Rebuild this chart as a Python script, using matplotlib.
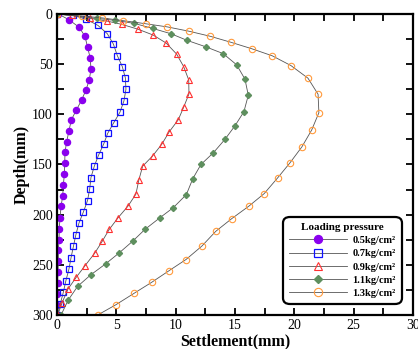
import matplotlib
matplotlib.use("Agg")
import matplotlib.pyplot as plt
from matplotlib.ticker import MultipleLocator

# Settlement profiles (depth in mm, settlement in mm) for each loading pressure
depth_05 = [0, 5.7, 13.4, 22.4, 33.4, 44, 55, 65.7, 75.7, 85.7, 95.7, 105.7, 116.4, 127.4,
            138, 149, 159.7, 170.7, 181.4, 191.7, 203, 214, 225, 235.7, 246.4, 257.4,
            268.4, 279, 289.7, 300]
settle_05 = [0.1, 1.0, 1.88, 2.36, 2.58, 2.8, 2.86, 2.72, 2.44, 2.08, 1.63, 1.2, 1.01, 0.81,
             0.67, 0.65, 0.62, 0.53, 0.48, 0.34, 0.25, 0.19, 0.17, 0.11, 0.11, 0.08,
             0.05, 0.03, 0.02, 0.0]

depth_07 = [0, 1.4, 5, 11.4, 19.7, 30, 41.4, 52.4, 63.7, 75, 86.7, 98, 108.4, 119, 129.7,
            140.7, 151.4, 163, 174.7, 186, 197.4, 208.4, 220, 231.7, 243, 254.5, 265.7,
            277.4, 288.7, 300]
settle_07 = [0, 1.32, 2.41, 3.45, 4.24, 4.75, 5.08, 5.5, 5.76, 5.81, 5.64, 5.3, 4.78, 4.27,
             3.93, 3.5, 3.15, 2.86, 2.75, 2.57, 2.22, 1.85, 1.59, 1.38, 1.18, 1.0, 0.75,
             0.53, 0.28, 0.03]

depth_09 = [0, 1.4, 4.4, 7, 10.5, 15.2, 21, 29, 40, 52.4, 65.7, 79.7, 93, 105.4, 117.4, 130,
            141.4, 151.7, 165.2, 179.5, 191.5, 203, 214.7, 226.7, 238.5, 250.7, 262.4,
            274, 287.7, 300]
settle_09 = [0, 1.3, 2.82, 4.18, 5.5, 6.83, 8.1, 9.2, 10.08, 10.67, 11.1, 11.12, 10.67,
             10.22, 9.46, 8.82, 8.06, 7.22, 6.9, 6.65, 5.98, 5.15, 4.4, 3.8, 3.17, 2.37,
             1.62, 0.93, 0.43, 0.06]

depth_11 = [0, 4.4, 6.4, 9.4, 14.4, 19.7, 26.4, 32.7, 39.5, 50.7, 65, 81, 97.4, 111.4, 125,
            138.4, 150, 164, 180, 193, 203, 214.7, 226.4, 238, 249, 260, 271.4, 285, 300]
settle_11 = [0, 3.34, 4.89, 6.51, 8.06, 9.6, 10.98, 12.53, 14.0, 15.14, 15.84, 16.12,
             15.75, 15.0, 14.15, 13.17, 12.13, 11.45, 10.9, 9.8, 8.68, 7.41, 6.38, 5.25,
             4.1, 2.84, 1.74, 0.95, 0.34]

depth_13 = [0, 2, 3.9, 6.7, 9.8, 12.9, 17.2, 22.2, 28.2, 34.6, 41.7, 51.4, 64, 80, 98.4,
            115.7, 132.4, 148.4, 163.4, 179, 191.4, 204, 216.7, 231.4, 244.7, 255.7, 267.4,
            278.4, 289.7, 300]
settle_13 = [0, 2.08, 3.78, 5.6, 7.5, 9.3, 11.12, 12.9, 14.65, 16.4, 18.14, 19.71, 21.15,
             22.0, 22.07, 21.46, 20.64, 19.63, 18.59, 17.46, 16.18, 14.72, 13.37, 12.2,
             10.87, 9.46, 7.98, 6.49, 4.97, 3.43]

labels = ["0.5kg/cm\u00b2", "0.7kg/cm\u00b2", "0.9kg/cm\u00b2", "1.1kg/cm\u00b2", "1.3kg/cm\u00b2"]

plt.rcParams["font.family"] = ["Liberation Serif", "DejaVu Serif"]

fig = plt.figure(figsize=(4.18, 3.49), dpi=100)
ax = fig.add_axes([0.1364, 0.0974, 0.988 - 0.1364, 0.96 - 0.0974])

line_kw = dict(color="#555555", lw=0.6)
series = [
    (settle_05, depth_05, dict(marker="o", ms=4.4, mfc="#8a00ee", mec="#8a00ee")),
    (settle_07, depth_07, dict(marker="s", ms=4.0, mfc="none", mec="#1010ff", mew=0.9)),
    (settle_09, depth_09, dict(marker="^", ms=4.2, mfc="none", mec="#ff3030", mew=0.8)),
    (settle_11, depth_11, dict(marker="D", ms=3.1, mfc="#5e8f5e", mec="#5e8f5e")),
    (settle_13, depth_13, dict(marker="o", ms=4.6, mfc="none", mec="#ff9a3c", mew=0.8)),
]
for (x, y, mk), lab in zip(series, labels):
    ax.plot(x, y, label=lab, **line_kw, **mk)

ax.set_xlim(0, 30)
ax.set_ylim(300, 0)
ax.xaxis.set_major_locator(MultipleLocator(5))
ax.xaxis.set_minor_locator(MultipleLocator(2.5))
ax.yaxis.set_major_locator(MultipleLocator(50))
ax.yaxis.set_minor_locator(MultipleLocator(25))
ax.tick_params(which="both", direction="in", top=True, right=True, width=1.3,
               labelsize=10, pad=3)
ax.tick_params(which="major", length=5)
ax.tick_params(which="minor", length=5)
for s in ax.spines.values():
    s.set_linewidth(1.6)

ax.set_xlabel("Settlement(mm)", fontsize=11.5, fontweight="bold", labelpad=1)
ax.set_ylabel("Depth(mm)", fontsize=11.5, fontweight="bold", labelpad=2)

leg = ax.legend(loc="lower right", bbox_to_anchor=(0.983, 0.02), title="Loading pressure",
                prop=dict(size=7.5, weight="bold"),
                title_fontproperties=dict(size=8, weight="bold"),
                handlelength=5.6, handletextpad=0.5, labelspacing=0.38,
                borderpad=0.55, markerscale=1.3, frameon=True, fancybox=True,
                framealpha=1)
leg.get_frame().set_edgecolor("black")
leg.get_frame().set_linewidth(1.6)
leg.get_frame().set_boxstyle("round", pad=0, rounding_size=0.6)

fig.savefig("out.png", dpi=100)
